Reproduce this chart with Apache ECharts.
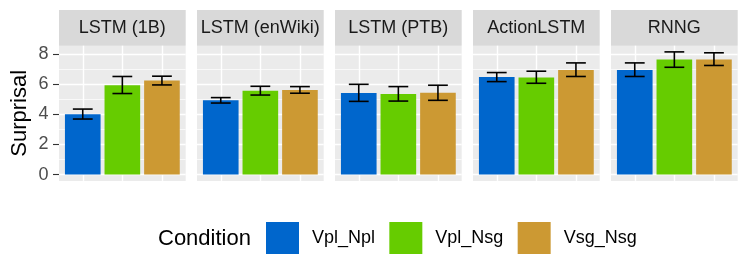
<!DOCTYPE html>
<html><head><meta charset="utf-8">
<script src="https://cdn.jsdelivr.net/npm/echarts@6/dist/echarts.min.js"></script>
<style>html,body{margin:0;padding:0;background:#fff}#c{width:747px;height:279px}</style>
</head><body><div id="c"></div>
<script>
const panels = ['LSTM (1B)', 'LSTM (enWiki)', 'LSTM (PTB)', 'ActionLSTM', 'RNNG'];
const conditions = ['Vpl_Npl', 'Vpl_Nsg', 'Vsg_Nsg'];
const conditionPos = [1, 2, 3];
const vplNpl = [4.00, 4.92, 5.41, 6.47, 6.93];
const vplNsg = [5.92, 5.56, 5.34, 6.43, 7.62];
const vsgNsg = [6.23, 5.61, 5.43, 6.93, 7.62];
const vplNplLo = [3.68, 4.74, 4.85, 6.16, 6.50];
const vplNplHi = [4.34, 5.10, 5.98, 6.76, 7.40];
const vplNsgLo = [5.37, 5.27, 4.87, 6.05, 7.11];
const vplNsgHi = [6.50, 5.85, 5.83, 6.85, 8.13];
const vsgNsgLo = [5.94, 5.39, 4.92, 6.50, 7.23];
const vsgNsgHi = [6.52, 5.83, 5.92, 7.40, 8.07];
const yTicks = [0, 2, 4, 6, 8];
const yMinor = [1, 3, 5, 7];

const means = [vplNpl, vplNsg, vsgNsg];
const lows = [vplNplLo, vplNsgLo, vsgNsgLo];
const highs = [vplNplHi, vplNsgHi, vsgNsgHi];
const colors = ['#0066CC', '#66CC00', '#CC9933'];
const FONT = '"Liberation Sans", Arial, sans-serif';

const panelLeft0 = 59, panelStep = 138, panelW = 126.7, panelTop = 45.7, panelH = 135.2;
const stripTop = 10;
const yMin = -0.42, yMax = 8.54, xMin = 0.4, xMax = 3.6;
const barW = 0.9 * panelW / (xMax - xMin);

const grids = [], xAxes = [], yAxes = [], series = [], graphics = [];
panels.forEach((p, i) => {
  const left = panelLeft0 + i * panelStep;
  grids.push({left: left, top: panelTop, width: panelW, height: panelH, show: true,
    backgroundColor: '#EBEBEB', borderWidth: 0, containLabel: false});
  xAxes.push({type: 'value', gridIndex: i, min: xMin, max: xMax, position: 'bottom',
    axisLine: {show: false}, axisLabel: {show: false},
    axisTick: {show: false, customValues: conditionPos},
    splitLine: {show: true, lineStyle: {color: '#FFFFFF', width: 1.4}}});
  // minor grid axis
  yAxes.push({type: 'value', gridIndex: i, min: yMin, max: yMax, position: 'right',
    axisLine: {show: false}, axisLabel: {show: false},
    axisTick: {show: false, customValues: yMinor},
    splitLine: {show: true, lineStyle: {color: '#FFFFFF', width: 0.7}}});
  // major axis
  yAxes.push({type: 'value', gridIndex: i, min: yMin, max: yMax, position: 'left',
    axisLine: {show: false},
    axisTick: {show: i === 0, length: 6, customValues: yTicks, lineStyle: {color: '#333333', width: 1.1}},
    axisLabel: {show: i === 0, customValues: yTicks, color: '#4D4D4D', fontSize: 18, fontFamily: FONT, margin: 10.5},
    splitLine: {show: true, lineStyle: {color: '#FFFFFF', width: 1.4}},
    name: i === 0 ? 'Surprisal' : '', nameLocation: 'middle', nameRotate: 90, nameGap: 28,
    nameTextStyle: {color: '#000000', fontSize: 22, fontFamily: FONT}});
  conditions.forEach((c, k) => {
    series.push({type: 'bar', name: c, xAxisIndex: i, yAxisIndex: 2 * i + 1,
      barWidth: barW, barGap: '-100%', itemStyle: {color: colors[k]},
      data: [[conditionPos[k], means[k][i]]], z: 2});
  });
  series.push({type: 'custom', xAxisIndex: i, yAxisIndex: 2 * i + 1, z: 5,
    data: conditions.map((c, k) => [conditionPos[k], lows[k][i], highs[k][i]]),
    renderItem: function (params, api) {
      const x = api.value(0);
      const lo = api.coord([x, api.value(1)]);
      const hi = api.coord([x, api.value(2)]);
      const half = api.size([0.5, 0])[0] / 2;
      const st = {stroke: '#000000', lineWidth: 1.6};
      return {type: 'group', children: [
        {type: 'line', shape: {x1: lo[0], y1: lo[1], x2: hi[0], y2: hi[1]}, style: st},
        {type: 'line', shape: {x1: lo[0] - half, y1: lo[1], x2: lo[0] + half, y2: lo[1]}, style: st},
        {type: 'line', shape: {x1: hi[0] - half, y1: hi[1], x2: hi[0] + half, y2: hi[1]}, style: st}
      ]};
    }});
  graphics.push({type: 'rect', left: left, top: stripTop,
    shape: {width: panelW, height: panelTop - stripTop}, style: {fill: '#D9D9D9'}});
  graphics.push({type: 'text', x: left + panelW / 2, y: (stripTop + panelTop) / 2,
    style: {text: p, fill: '#1A1A1A', font: '18px ' + FONT, align: 'center', verticalAlign: 'middle'}});
});
graphics.push({type: 'text', x: 158, y: 239,
  style: {text: 'Condition', fill: '#000000', font: '22px ' + FONT, align: 'left', verticalAlign: 'middle'}});

const chart = echarts.init(document.getElementById('c'), null, {renderer: 'canvas'});
chart.setOption({
  animation: false,
  grid: grids, xAxis: xAxes, yAxis: yAxes, series: series, graphic: graphics,
  legend: {data: conditions, left: 266, top: 222, padding: 0, icon: 'rect', itemWidth: 33, itemHeight: 32,
    itemGap: 14.3, selectedMode: false,
    textStyle: {fontSize: 18, color: '#000000', fontFamily: FONT, padding: [0, 0, 0, 8]}}
});
</script></body></html>
